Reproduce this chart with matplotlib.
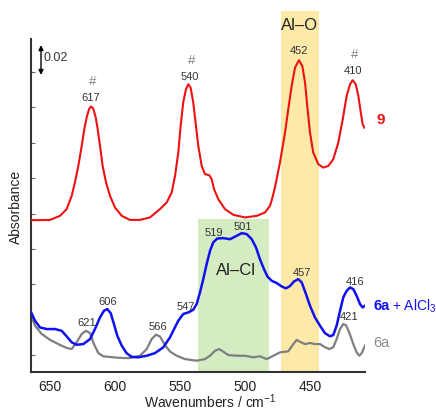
import matplotlib
matplotlib.use("Agg")
import matplotlib.pyplot as plt
from matplotlib.patches import Rectangle

plt.rcParams['font.family'] = ['Liberation Sans', 'DejaVu Sans']
plt.rcParams['mathtext.fontset'] = 'custom'
plt.rcParams['mathtext.rm'] = 'Liberation Sans'

# spectrum 9 (red), stacked
w9 = [664.6, 657.7, 650.0, 642.3, 637.2, 633.3, 630.8, 628.2, 625.6, 623.6,
      621.8, 620.0, 618.5, 616.7, 614.8, 613.3, 611.5, 609.5, 606.9, 603.8,
      600.0, 594.8, 588.5, 580.8, 573.1, 565.4, 560.2, 556.4, 553.8, 551.3,
      549.5, 547.5, 545.4, 543.6, 541.8, 539.8, 537.7, 535.9, 533.3, 530.8,
      527.5, 525.6, 523.8, 520.5, 515.4, 509.0, 500.0, 491.0, 484.6, 480.8,
      479.2, 476.9, 473.1, 469.2, 466.7, 464.1, 461.5, 458.5, 455.9, 453.8,
      452.1, 450.0, 447.5, 443.6, 439.8, 435.9, 432.1, 428.2, 424.8, 421.8,
      419.2, 417.2, 414.8, 412.8, 410.9, 409.5, 408.2]
a9 = [0.0763, 0.0763, 0.0764, 0.0787, 0.0825, 0.0900, 0.0976, 0.1069, 0.1182, 0.1277,
      0.1343, 0.1390, 0.1405, 0.1394, 0.1343, 0.1277, 0.1182, 0.1069, 0.0976, 0.0900,
      0.0834, 0.0787, 0.0764, 0.0764, 0.0778, 0.0825, 0.0863, 0.0919, 0.1013, 0.1145,
      0.1295, 0.1428, 0.1503, 0.1531, 0.1512, 0.1428, 0.1295, 0.1182, 0.1069, 0.1023,
      0.1017, 0.0994, 0.0938, 0.0881, 0.0825, 0.0793, 0.0778, 0.0787, 0.0806, 0.0844,
      0.0881, 0.0949, 0.1089, 0.1258, 0.1390, 0.1521, 0.1625, 0.1667, 0.1634, 0.1541,
      0.1408, 0.1258, 0.1145, 0.1079, 0.1060, 0.1069, 0.1107, 0.1202, 0.1333, 0.1465,
      0.1531, 0.1554, 0.1531, 0.1465, 0.1371, 0.1305, 0.1286]

# 6a + AlCl3 (blue)
wb = [664.6, 661.5, 657.7, 652.5, 646.2, 641.0, 637.2, 633.3, 629.5, 624.4,
      619.2, 615.4, 611.5, 608.5, 605.9, 603.3, 600.8, 598.2, 594.8, 591.0,
      587.2, 582.1, 575.6, 569.2, 562.8, 557.7, 555.2, 551.3, 547.5, 543.6,
      539.8, 537.2, 534.6, 532.1, 529.5, 526.9, 524.4, 521.3, 516.7, 511.5,
      506.4, 502.5, 498.7, 494.8, 491.5, 488.5, 485.4, 482.8, 479.5, 475.6,
      471.8, 468.5, 465.4, 462.3, 459.0, 456.4, 453.1, 450.0, 446.2, 442.3,
      438.5, 434.6, 432.1, 429.5, 426.9, 424.4, 421.8, 419.2, 416.7, 414.1,
      411.5, 409.5, 407.7]
ab = [0.0243, 0.0194, 0.0156, 0.0147, 0.0147, 0.0137, 0.0106, 0.0072, 0.0058, 0.0062,
      0.0090, 0.0147, 0.0213, 0.0250, 0.0260, 0.0237, 0.0175, 0.0109, 0.0053, 0.0010,
      -0.0010, -0.0013, -0.0004, 0.0011, 0.0044, 0.0100, 0.0137, 0.0194, 0.0232, 0.0241,
      0.0256, 0.0288, 0.0354, 0.0429, 0.0514, 0.0589, 0.0637, 0.0659, 0.0661, 0.0655,
      0.0674, 0.0689, 0.0684, 0.0655, 0.0608, 0.0542, 0.0486, 0.0445, 0.0420, 0.0407,
      0.0388, 0.0377, 0.0390, 0.0416, 0.0429, 0.0411, 0.0345, 0.0279, 0.0213, 0.0166,
      0.0124, 0.0106, 0.0113, 0.0166, 0.0250, 0.0326, 0.0363, 0.0382, 0.0373, 0.0335,
      0.0288, 0.0269, 0.0279]

# 6a (grey)
wg = [664.6, 661.5, 656.4, 650.0, 643.6, 637.2, 633.3, 629.5, 625.6, 622.3,
      619.2, 616.2, 612.8, 609.0, 601.3, 593.6, 588.5, 580.8, 575.6, 571.8,
      568.5, 565.4, 561.5, 557.7, 552.5, 546.2, 537.2, 530.8, 526.9, 523.1,
      519.8, 516.7, 512.8, 506.4, 500.0, 493.6, 488.5, 483.3, 478.2, 473.1,
      466.7, 462.8, 460.2, 457.7, 453.8, 450.0, 446.2, 442.3, 438.5, 435.2,
      432.1, 429.5, 426.9, 424.4, 422.3, 419.8, 416.7, 414.1, 412.1, 410.2,
      407.7]
ag = [0.0226, 0.0166, 0.0119, 0.0086, 0.0062, 0.0040, 0.0034, 0.0072, 0.0119, 0.0137,
      0.0124, 0.0062, 0.0011, -0.0007, -0.0013, -0.0017, -0.0017, -0.0004, 0.0034, 0.0090,
      0.0115, 0.0105, 0.0056, 0.0020, -0.0004, -0.0023, -0.0032, -0.0023, -0.0004, 0.0024,
      0.0034, 0.0019, 0.0000, -0.0004, -0.0004, -0.0013, -0.0007, -0.0023, -0.0004, 0.0015,
      0.0021, 0.0062, 0.0086, 0.0075, 0.0062, 0.0068, 0.0062, 0.0062, 0.0044, 0.0034,
      0.0044, 0.0090, 0.0147, 0.0175, 0.0169, 0.0128, 0.0062, 0.0015, -0.0004, 0.0011,
      0.0053]

# peak labels: (text, x, y, hash mark above)
peaks = [("617", 618.5, 0.1458, True), ("540", 542.3, 0.1576, True), ("452", 458.5, 0.1723, False),
         ("410", 416.9, 0.1610, True), ("519", 523.8, 0.0695, False), ("501", 501.5, 0.0729, False),
         ("547", 545.4, 0.0277, False), ("606", 605.4, 0.0305, False), ("621", 621.5, 0.0186, False),
         ("566", 566.9, 0.0164, False), ("457", 456.2, 0.0469, False), ("416", 415.4, 0.0418, False),
         ("421", 420.0, 0.0220, False)]

alcl_band = (481.5, 536.0, 0.0768)
alo_band = (443.0, 472.0)

ymin, ymax = -0.0096, 0.1944

fig = plt.figure(figsize=(4.36, 4.10), dpi=100)
ax = fig.add_axes([0.0711, 0.0902, 0.766, 0.880])
ax.set_xlim(664.6, 407.7)
ax.set_ylim(ymin, ymax)

ax.add_patch(Rectangle((alcl_band[0], ymin), alcl_band[1] - alcl_band[0], alcl_band[2] - ymin,
                       color='#d5ecc3', lw=0, zorder=0))
ax.add_patch(Rectangle((alo_band[0], ymin), alo_band[1] - alo_band[0], ymax - ymin,
                       color='#fdeaa9', lw=0, zorder=0))

ax.plot(wg, ag, color='#7f7f7f', lw=1.6, zorder=2, solid_joinstyle='round')
ax.plot(wb, ab, color='#1010f0', lw=1.8, zorder=3, solid_joinstyle='round')
ax.plot(w9, a9, color='#ee1111', lw=1.5, zorder=4, solid_joinstyle='round')

for txt, x, y, hashed in peaks:
    ax.text(x, y, txt, fontsize=8, color='#333333', ha='center', va='center')
    if hashed:
        ax.text(x - 1.5, y + 0.0092, '#', fontsize=9.5, color='#808080', ha='center', va='center')

ax.text(457.7, 0.1870, 'Al\u2013O', fontsize=12, color='#222222', ha='center', va='center')
ax.text(506.9, 0.0486, 'Al\u2013Cl', fontsize=12, color='#222222', ha='center', va='center')

ax.text(399.2, 0.1333, '9', fontsize=11, color='#ee1111', fontweight='bold', va='center', ha='left')
ax.text(401.5, 0.0282, '6a', fontsize=10.5, color='#1010f0', fontweight='bold', va='center', ha='left')
ax.text(386.8, 0.0282, '+ AlCl$_3$', fontsize=10, color='#1010f0', va='center', ha='left')
ax.text(401.5, 0.0073, '6a', fontsize=10.5, color='#8a8a8a', va='center', ha='left')

# scale bar
ax.annotate('', xy=(656.9, 0.1568), xytext=(656.9, 0.1768),
            arrowprops=dict(arrowstyle='<|-|>', color='black', lw=1, mutation_scale=7))
ax.text(654.6, 0.1684, '0.02', fontsize=9, color='#333333', va='center', ha='left')

for s in ['top', 'right']:
    ax.spines[s].set_visible(False)
for s in ['left', 'bottom']:
    ax.spines[s].set_linewidth(1.5)
    ax.spines[s].set_color('#333333')
ax.spines['left'].set_bounds(ymin, 0.1785)

ax.set_yticks([0.0, 0.02, 0.04, 0.06, 0.08, 0.10, 0.12, 0.14, 0.16])
ax.tick_params(axis='y', direction='in', length=3, width=0.8, color='#666666', labelleft=False)
ax.set_xticks([650, 600, 550, 500, 450])
ax.tick_params(axis='x', length=0, pad=5, labelsize=10, labelcolor='#222222')

ax.set_ylabel('Absorbance', fontsize=10, color='#222222')
ax.yaxis.set_label_coords(-0.025, 0.46)
ax.set_xlabel('Wavenumbers / cm$^{-1}$', fontsize=10, color='#222222')
ax.xaxis.set_label_coords(0.536, -0.055)

fig.savefig('out.png', dpi=100)
